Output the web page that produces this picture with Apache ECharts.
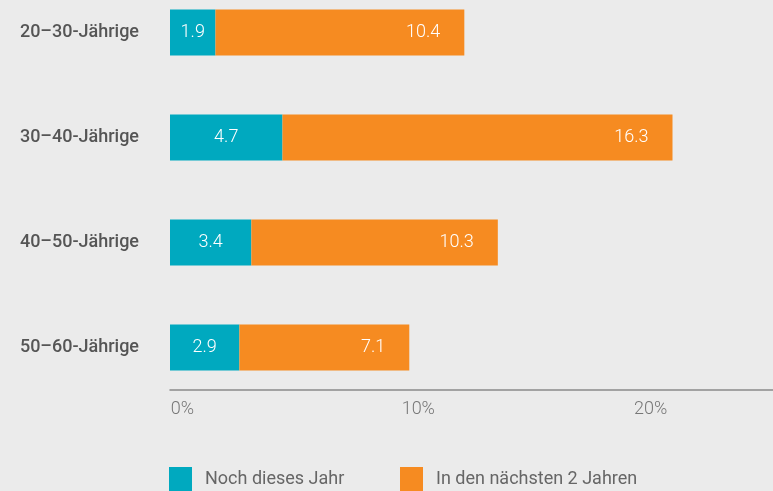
<!DOCTYPE html>
<html>
<head>
<meta charset="utf-8">
<script src="https://cdn.jsdelivr.net/npm/echarts@6/dist/echarts.min.js"></script>
<style>
  html, body { margin: 0; padding: 0; background: #ebebeb; }
  #chart { width: 773px; height: 491px; }
</style>
</head>
<body>
<div id="chart"></div>
<script>
const categories = ['20–30-Jährige', '30–40-Jährige', '40–50-Jährige', '50–60-Jährige']
const thisYear = [1.9, 4.7, 3.4, 2.9]
const nextTwoYears = [10.4, 16.3, 10.3, 7.1]
const seriesNames = ['Noch dieses Jahr', 'In den nächsten 2 Jahren']
const xTicks = [0, 10, 20]

const colors = {
  teal: '#00a9bf',
  orange: '#f68b21'
}

const chart = echarts.init(document.getElementById('chart'))

const labelStyle = {
  show: true,
  color: '#ffffff',
  fontFamily: 'Roboto',
  fontWeight: 300,
  fontSize: 18,
  formatter: p => p.value.toFixed(1)
}

const legendText = { color: '#666', fontFamily: 'Roboto', fontWeight: 400, fontSize: 18, padding: [0, 0, 0, 8] }

// tick labels sit a bit left of the ticks in the original
const tickRich = {
  t0: { padding: [0, 0, 0, 25] },
  t10: { padding: [0, 0, 0, 18] },
  t20: { padding: [0, 0, 0, 4] }
}

chart.setOption({
  backgroundColor: '#ebebeb',
  animation: false,
  grid: { left: 170, right: 0, top: -20, height: 420, outerBoundsMode: 'none' },
  legend: [
    {
      left: 169, top: 467, padding: 0, itemWidth: 23, itemHeight: 24, icon: 'rect',
      data: [seriesNames[0]],
      textStyle: legendText
    },
    {
      left: 400, top: 467, padding: 0, itemWidth: 23, itemHeight: 24, icon: 'rect',
      data: [seriesNames[1]],
      textStyle: legendText
    }
  ],
  xAxis: {
    type: 'value',
    min: 0,
    max: 25.2,
    interval: 10,
    offset: -10,
    splitLine: { show: false },
    axisTick: { show: false },
    axisLine: { show: true, lineStyle: { color: '#8a8a8a', width: 1.5 } },
    axisLabel: {
      align: 'center',
      margin: 10,
      color: '#777',
      fontFamily: 'Roboto',
      fontWeight: 300,
      fontSize: 18,
      showMaxLabel: false,
      rich: Object.fromEntries(Object.entries(tickRich).map(([k, s]) => [k, {
        ...s, color: '#777', fontFamily: 'Roboto', fontWeight: 300, fontSize: 18
      }])),
      formatter: v => xTicks.includes(v) ? `{t${v}|${v}%}` : ''
    }
  },
  yAxis: {
    type: 'category',
    inverse: true,
    data: categories,
    axisLine: { show: false },
    axisTick: { show: false },
    axisLabel: {
      margin: 31,
      color: '#555',
      fontFamily: 'Roboto',
      fontWeight: 500,
      fontSize: 18
    }
  },
  series: [
    {
      name: seriesNames[0],
      type: 'bar',
      stack: 'total',
      barWidth: 46,
      itemStyle: { color: colors.teal },
      label: { ...labelStyle, position: 'inside' },
      data: thisYear
    },
    {
      name: seriesNames[1],
      type: 'bar',
      stack: 'total',
      barWidth: 46,
      itemStyle: { color: colors.orange },
      label: { ...labelStyle, position: 'insideRight', distance: 24 },
      data: nextTwoYears
    }
  ]
})

window.addEventListener('resize', () => {
  chart.resize()
})
</script>
</body>
</html>
